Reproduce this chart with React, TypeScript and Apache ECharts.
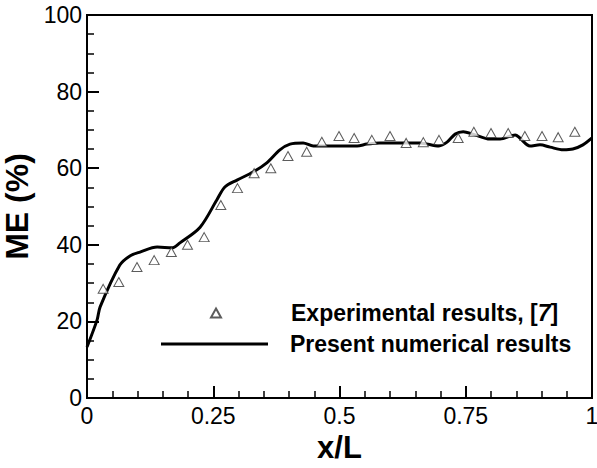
import React, { useEffect, useRef } from "react";
import * as echarts from "echarts";

const expX = [0.032, 0.063, 0.099, 0.133, 0.167, 0.199, 0.232, 0.265, 0.298, 0.331, 0.364, 0.398, 0.435, 0.465, 0.499, 0.529, 0.564, 0.600, 0.632, 0.666, 0.697, 0.735, 0.766, 0.800, 0.834, 0.867, 0.901, 0.933, 0.966];
const expY = [28.5, 30.3, 34.2, 36.0, 38.1, 40.0, 42.0, 50.4, 54.8, 58.7, 60.0, 63.2, 64.3, 66.9, 68.4, 67.9, 67.4, 68.4, 66.6, 66.8, 67.4, 67.9, 69.5, 69.2, 69.2, 68.4, 68.4, 68.1, 69.5];

const numX = [0, 0.02, 0.026, 0.065, 0.085, 0.105, 0.139, 0.168, 0.184, 0.224, 0.257, 0.273, 0.297, 0.329, 0.356, 0.382, 0.402, 0.428, 0.448, 0.535, 0.554, 0.58, 0.62, 0.659, 0.697, 0.713, 0.729, 0.745, 0.764, 0.798, 0.818, 0.848, 0.857, 0.877, 0.897, 0.917, 0.943, 0.962, 0.982, 1.0];
const numY = [13.3, 20.4, 23.8, 34.7, 37.1, 38.1, 39.4, 39.2, 40.5, 44.6, 51.7, 55.1, 56.9, 59.0, 61.4, 64.8, 66.3, 66.6, 65.8, 65.8, 66.3, 66.6, 66.6, 66.6, 65.8, 66.8, 68.9, 69.5, 68.9, 67.6, 67.6, 68.7, 67.9, 65.8, 66.1, 65.5, 64.8, 65.0, 66.1, 67.9];

const expName = "Experimental results, [7]";
const numName = "Present numerical results";
const FONT = "'Liberation Sans', Arial, sans-serif";

const legendText = (padLeft: number) => ({
  fontFamily: FONT,
  fontWeight: "bold",
  fontSize: 23,
  color: "#000",
  padding: [0, 0, 0, padLeft],
  rich: { i: { fontFamily: FONT, fontWeight: "bold", fontStyle: "italic", fontSize: 23, color: "#000" } },
});

export default function App() {
  const ref = useRef<HTMLDivElement>(null);
  useEffect(() => {
    const chart = echarts.init(ref.current!, null, { renderer: "svg" });
    chart.setOption({
      animation: false,
      backgroundColor: "#fff",
      grid: {
        left: 87, right: 5, top: 15, bottom: 70,
        outerBoundsMode: "none",
        containLabel: false,
        show: true, borderColor: "#000", borderWidth: 2, backgroundColor: "transparent",
      },
      legend: [
        {
          left: 210,
          top: 301.5,
          padding: 0,
          itemWidth: 10,
          itemHeight: 9,
          data: [{ name: expName, icon: "triangle" }],
          formatter: () => "Experimental results, [{i|7}]",
          textStyle: legendText(65),
        },
        {
          left: 161,
          top: 332.5,
          padding: 0,
          itemWidth: 107,
          itemHeight: 3,
          data: [{ name: numName, icon: "rect", itemStyle: { color: "#000", borderWidth: 0 } }],
          textStyle: legendText(17),
        },
      ],
      xAxis: {
        type: "value",
        min: 0,
        max: 1,
        interval: 0.25,
        name: "x/L",
        nameLocation: "middle",
        nameGap: 30,
        nameTextStyle: { fontFamily: FONT, fontWeight: "bold", fontSize: 31, color: "#000" },
        axisLine: { onZero: false, lineStyle: { color: "#000", width: 2 } },
        axisTick: { inside: true, length: 12, lineStyle: { color: "#000", width: 2 } },
        minorTick: { show: true, splitNumber: 5, length: 7, lineStyle: { color: "#000", width: 1.5 } },
        splitLine: { show: false },
        axisLabel: { fontFamily: FONT, fontSize: 23, color: "#000", margin: 6 },
      },
      yAxis: {
        type: "value",
        min: 0,
        max: 100,
        interval: 20,
        name: "ME (%)",
        nameLocation: "middle",
        nameGap: 53,
        nameTextStyle: { fontFamily: FONT, fontWeight: "bold", fontSize: 32, color: "#000" },
        axisLine: { onZero: false, lineStyle: { color: "#000", width: 2 } },
        axisTick: { inside: true, length: 12, lineStyle: { color: "#000", width: 2 } },
        minorTick: { show: true, splitNumber: 4, length: 7, lineStyle: { color: "#000", width: 1.5 } },
        splitLine: { show: false },
        axisLabel: { fontFamily: FONT, fontSize: 23, color: "#000", margin: 5 },
      },
      series: [
        {
          name: expName,
          type: "scatter",
          symbol: "triangle",
          symbolSize: [10, 9],
          itemStyle: { color: "#fff", borderColor: "#333", borderWidth: 1 },
          data: expX.map((x, i) => [x, expY[i]]),
          z: 3,
        },
        {
          name: numName,
          type: "line",
          symbol: "none",
          smooth: 0.3,
          lineStyle: { color: "#000", width: 3 },
          itemStyle: { color: "#000" },
          data: numX.map((x, i) => [x, numY[i]]),
          z: 2,
        },
      ],
    });
    return () => chart.dispose();
  }, []);
  return <div ref={ref} style={{ position: "absolute", left: 0, top: 0, width: 597, height: 468 }} />;
}
